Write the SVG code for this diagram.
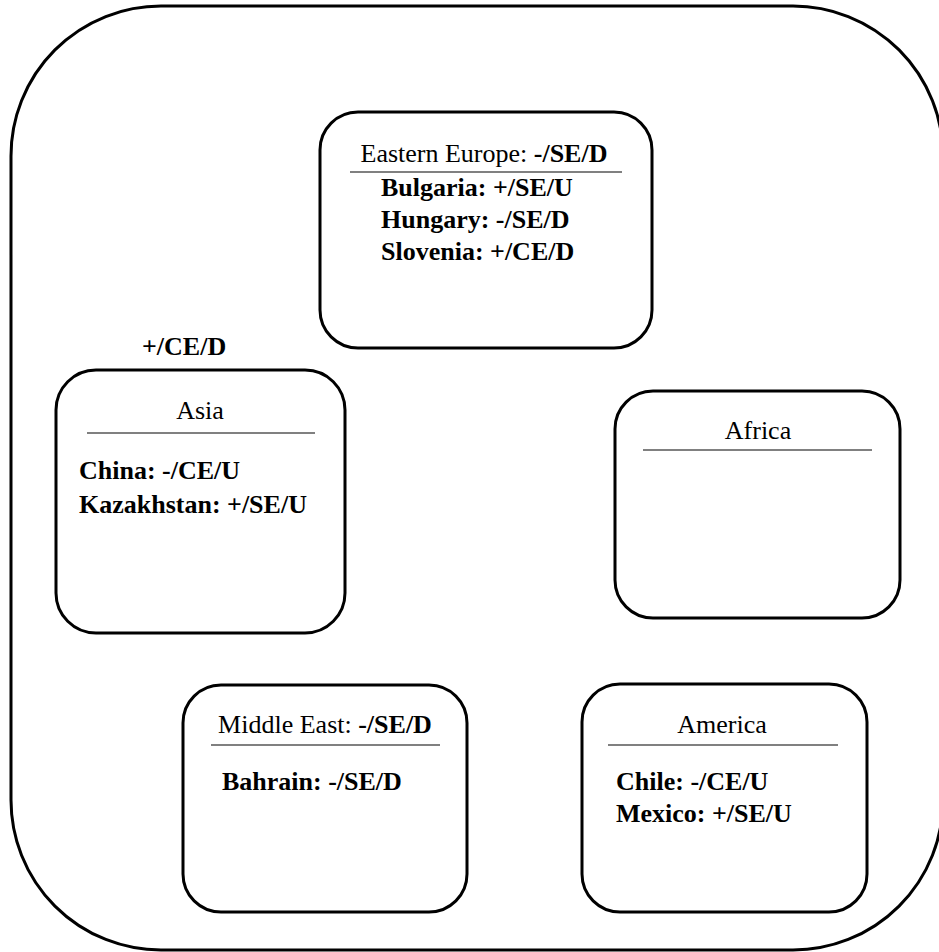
<svg xmlns="http://www.w3.org/2000/svg" width="939" height="952" viewBox="0 0 939 952">
<style>
.box{fill:#fff;stroke:#000;stroke-width:3}
.sep{stroke:#808080;stroke-width:2}
text{font-family:"Liberation Serif","Times New Roman",serif;font-size:26px;fill:#000}
.b{font-weight:bold}
.c{text-anchor:middle}
</style>
<rect x="11" y="6" width="932" height="944" rx="150" ry="150" fill="#fff" stroke="#000" stroke-width="3"/>
<g id="connectors"></g>
<g id="eastern-europe">
<rect class="box" x="320" y="112" width="332" height="236" rx="38"/>
<text class="c" x="484" y="162">Eastern Europe: <tspan class="b">-/SE/D</tspan></text>
<line class="sep" x1="350" y1="172" x2="622" y2="172"/>
<text class="b" x="381" y="196">Bulgaria: +/SE/U</text>
<text class="b" x="381" y="228">Hungary: -/SE/D</text>
<text class="b" x="381" y="260">Slovenia: +/CE/D</text>
</g>
<g id="asia">
<text class="b" x="142" y="355">+/CE/D</text>
<rect class="box" x="56" y="370" width="289" height="263" rx="40"/>
<text class="c" x="200" y="419">Asia</text>
<line class="sep" x1="87" y1="433" x2="315" y2="433"/>
<text class="b" x="79" y="479">China: -/CE/U</text>
<text class="b" x="79" y="513">Kazakhstan: +/SE/U</text>
</g>
<g id="africa">
<rect class="box" x="615" y="391" width="285" height="227" rx="38"/>
<text class="c" x="758" y="439">Africa</text>
<line class="sep" x1="643" y1="450" x2="872" y2="450"/>
</g>
<g id="middle-east">
<rect class="box" x="183" y="685" width="284" height="227" rx="38"/>
<text class="c" x="325" y="733">Middle East: <tspan class="b">-/SE/D</tspan></text>
<line class="sep" x1="211" y1="745" x2="440" y2="745"/>
<text class="b" x="222" y="790">Bahrain: -/SE/D</text>
</g>
<g id="america">
<rect class="box" x="582" y="684" width="285" height="228" rx="38"/>
<text class="c" x="722" y="733">America</text>
<line class="sep" x1="608" y1="745" x2="838" y2="745"/>
<text class="b" x="616" y="790">Chile: -/CE/U</text>
<text class="b" x="616" y="822">Mexico: +/SE/U</text>
</g>
</svg>
